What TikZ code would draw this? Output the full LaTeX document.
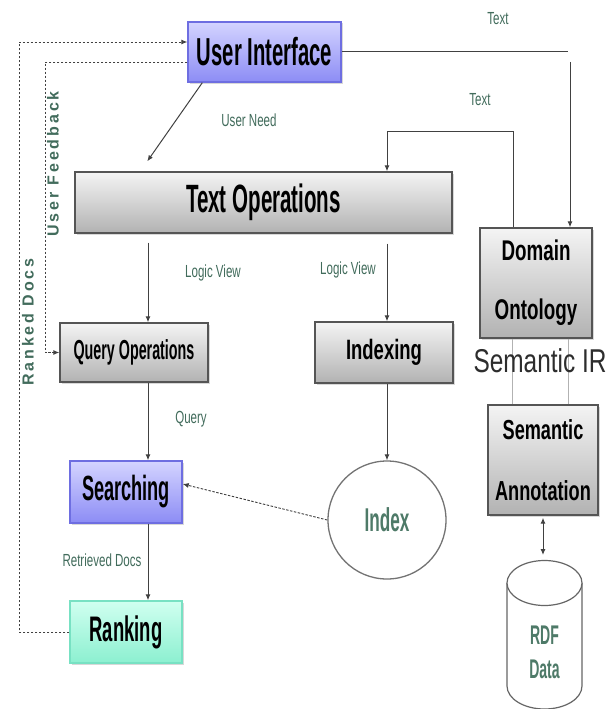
\documentclass[tikz,border=0pt]{standalone}
\usepackage{fontspec}
\setmainfont{Liberation Sans}
\newfontfamily\cndA[FakeStretch=0.52]{Liberation Sans}
\newfontfamily\cndB[FakeStretch=0.66]{Liberation Sans}
\newfontfamily\cndC[FakeStretch=0.74]{Liberation Sans}
\newfontfamily\spcV[LetterSpace=18]{Liberation Sans}
\usetikzlibrary{arrows.meta,shadows,calc}
\definecolor{lbl}{RGB}{66,108,92}
\definecolor{idxc}{RGB}{78,122,104}
\definecolor{arrc}{RGB}{65,65,65}
\definecolor{gtop}{RGB}{244,244,244}
\definecolor{gbot}{RGB}{178,178,178}
\definecolor{gborder}{RGB}{85,85,85}
\definecolor{btop}{RGB}{212,212,255}
\definecolor{bbot}{RGB}{140,140,245}
\definecolor{bborder}{RGB}{110,110,225}
\definecolor{rtop}{RGB}{208,255,240}
\definecolor{rbot}{RGB}{140,240,208}
\definecolor{rborder}{RGB}{120,225,195}
\definecolor{semc}{RGB}{45,45,45}
\tikzset{
  box/.style={line width=1.4pt, inner sep=0pt, align=center,
    drop shadow={shadow xshift=1.5pt, shadow yshift=-1.5pt, opacity=0.3}},
  graybox/.style={box, top color=gtop, bottom color=gbot, draw=gborder},
  bluebox/.style={box, top color=btop, bottom color=bbot, draw=bborder},
  greenbox/.style={box, top color=rtop, bottom color=rbot, draw=rborder},
  lab/.style={text=lbl, inner sep=0pt, font=\cndB\fontsize{17.5}{17.5}\selectfont},
  vlab/.style={text=lbl, inner sep=0pt, rotate=90, font=\spcV\bfseries\fontsize{16}{16}\selectfont},
  arr/.style={draw=arrc, line width=1pt, -{Latex[length=6pt,width=5pt]}},
  darr/.style={draw=arrc, line width=1pt, {Latex[length=6pt,width=5pt]}-{Latex[length=6pt,width=5pt]}},
  plain/.style={draw=arrc, line width=1pt},
  dotarr/.style={draw=arrc, line width=0.9pt, dash pattern=on 2.5pt off 1.5pt, -{Latex[length=6pt,width=5pt]}},
  faint/.style={draw=black!30, line width=0.8pt},
}
\begin{document}
\begin{tikzpicture}[x=1pt,y=-1pt]
\fill[white] (0,0) rectangle (614,709);
\useasboundingbox (0,0) rectangle (614,709);

% boxes
\node[bluebox, minimum width=153pt, minimum height=60pt,
  font=\cndA\bfseries\fontsize{39}{39}\selectfont] (ui) at (264.5,52) {User Interface};
\node[graybox, minimum width=377pt, minimum height=61pt,
  font=\cndA\bfseries\fontsize{39.5}{39.5}\selectfont] (textops) at (263.5,202.5) {Text Operations};
\node[graybox, minimum width=148pt, minimum height=59pt,
  font=\cndA\bfseries\fontsize{27.5}{27.5}\selectfont] (queryops) at (134,352.5) {Query Operations};
\node[graybox, minimum width=138pt, minimum height=61pt,
  font=\cndB\bfseries\fontsize{28}{28}\selectfont] (indexing) at (384,352.5) {Indexing};
\node[bluebox, minimum width=112pt, minimum height=62pt,
  font=\cndA\bfseries\fontsize{35}{35}\selectfont] (searching) at (126,492) {Searching};
\node[greenbox, minimum width=112pt, minimum height=62pt,
  font=\cndA\bfseries\fontsize{35.5}{35.5}\selectfont] (ranking) at (126,632) {Ranking};
\node[graybox, minimum width=112pt, minimum height=110pt,
  font=\cndB\bfseries\fontsize{28.5}{59}\selectfont] (domain) at (536,283) {Domain\\Ontology};
\node[graybox, minimum width=110pt, minimum height=110pt,
  font=\cndB\bfseries\fontsize{27.5}{61}\selectfont] (semann) at (543,460) {Semantic\\Annotation};

% faint lines between ontology and annotation
\draw[faint] ([xshift=-24pt]domain.south) -- ([xshift=-31pt]semann.north);
\draw[faint] ([xshift=32pt]domain.south) -- ([xshift=25pt]semann.north);
\node[inner sep=0pt, text=semc, font=\cndC\fontsize{33}{33}\selectfont] (sir) at (540,361) {Semantic IR};

% index circle
\node[circle, draw=black!55, line width=1.3pt, fill=white, minimum size=118pt, inner sep=0pt,
  text=idxc, font=\cndA\bfseries\fontsize{33}{33}\selectfont] (index) at (387,520) {Index};

% RDF cylinder
\draw[draw=black!60, line width=1.2pt, fill=white]
  (507,583) -- (507,686) arc[start angle=180, end angle=0, x radius=37.5, y radius=23] -- (582,583);
\draw[draw=black!60, line width=1.2pt, fill=white] (544.5,583) ellipse[x radius=37.5, y radius=22.5];
\node[inner sep=0pt, align=center, text=idxc, font=\cndA\bfseries\fontsize{27}{34}\selectfont] (rdf) at (544.5,652) {RDF\\Data};
\coordinate (rdftop) at (543,555);

% helper columns
\coordinate (colA) at (148,0);
\coordinate (lxo) at (19,0);
\coordinate (lxi) at (45,0);
\coordinate (c1) at (568,0);
\coordinate (c2) at (570,62);

% connectors
\draw[arr] ([xshift=15pt]ui.south west) -- ([xshift=73pt,yshift=10pt]textops.north west);
\draw[plain] (ui.east) -- (ui.east -| c1);
\draw[arr] (c2) -- (c2 |- domain.north);
\draw[arr] ([xshift=-23pt]domain.north) -- ++(0,-96) -| ([xshift=123.5pt]textops.north);
\draw[arr] ($(colA |- textops.south)+(0,9)$) -- (colA |- queryops.north);
\draw[arr] ($(index.north |- textops.south)+(0,10)$) -- (index.north |- indexing.north);
\draw[arr] (index.north |- indexing.south) -- (index.north);
\draw[dotarr] (index.west) -- ([yshift=8pt]searching.east);
\draw[arr] (colA |- queryops.south) -- (colA |- searching.north);
\draw[arr] (colA |- searching.south) -- (colA |- ranking.north);
\draw[dotarr] (ranking.west) -| ($(lxo |- ui.west)+(0,-10)$) -- ([yshift=10pt]ui.west);
\draw[dotarr] ([yshift=-10pt]ui.west) -| (lxi |- queryops.west) -- (queryops.west);
\draw[darr] ([yshift=-2pt]semann.south) -- (rdftop);

% labels
\node[lab] (lun) at (249,120) {User Need};
\node[lab] (lt1) at (498,19) {Text};
\node[lab] (lt2) at (480,100) {Text};
\node[lab] (llv1) at (213,273) {Logic View};
\node[lab] (llv2) at (348,270) {Logic View};
\node[lab] (lq) at (191,419) {Query};
\node[lab] (lrd) at (102,560) {Retrieved Docs};
\node[vlab] (luf) at (53,164) {User Feedback};
\node[vlab] (lrk) at (28,322) {Ranked Docs};
\end{tikzpicture}
\end{document}
